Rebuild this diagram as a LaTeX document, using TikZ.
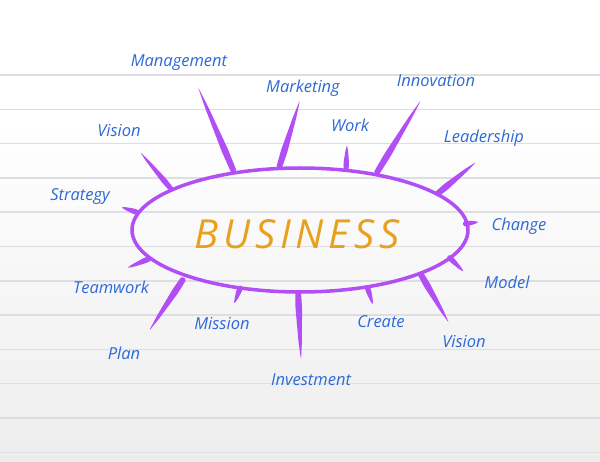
\documentclass[tikz,border=0pt]{standalone}
\usepackage{fontspec}
\setmainfont{Open Sans}
\usetikzlibrary{calc}
\definecolor{rayc}{RGB}{178,78,245}
\definecolor{labc}{RGB}{45,105,215}
\definecolor{bizc}{RGB}{232,160,30}
\definecolor{rulec}{RGB}{222,222,226}
\tikzset{
  word/.style={text=labc, font=\fontsize{16.5}{16.5}\selectfont\itshape, inner sep=0pt},
  title/.style={text=bizc, font=\fontsize{40}{40}\selectfont\itshape\addfontfeature{LetterSpace=12}, inner sep=0pt}
}
% brush stroke from base #1 to tip #2, half width #3
\newcommand\brush[3]{\fill[rayc, rounded corners=1.5pt]
  ($(#1)!0.85*#3!90:(#2)$) -- ($(#1)!0.25!(#2)!#3!90:(#2)$) -- ($(#1)!0.75!(#2)!0.5*#3!90:(#2)$) -- (#2)
  -- ($(#1)!0.75!(#2)!0.5*#3!-90:(#2)$) -- ($(#1)!0.25!(#2)!#3!-90:(#2)$) -- ($(#1)!0.85*#3!-90:(#2)$) -- cycle;}

\begin{document}
\begin{tikzpicture}[x=1pt, y=-1pt]
  \useasboundingbox (0,0) rectangle (600,462);
  \fill[white] (0,0) rectangle (600,462);
  \shade[top color=white, bottom color=black!7] (0,120) rectangle (600,462);
  \foreach \k in {0,...,11}
    \draw[rulec, line width=1.5pt] (0,75+34.3*\k) -- (600,75+34.3*\k);

  % rays
  \foreach \i/\bx/\by/\tx/\ty/\w in {1/234/172/198/87/3.3, 2/279/168/300/100/3.3, 3/346/170/347/145/2.8,
      4/376/174/421/100/3.3, 5/436/195/476/162/3.3, 6/172/190/140/152/2.8, 7/139/213/121/207/2.8,
      8/463/224/479/222/2.8, 9/151/258/127/268/2.8, 10/448/256/464/272/2.8, 11/184/278/149/331/3.3,
      12/241/286/234/304/2.8, 13/298/290/301/360/3.3, 14/367/286/373/305/2.8, 15/420/273/449/323/3.3} {
    \coordinate (b\i) at (\bx,\by);
    \coordinate (t\i) at (\tx,\ty);
    \brush{b\i}{t\i}{\w pt}
  }

  \draw[rayc, line width=3.5pt] (300,230) ellipse [x radius=168, y radius=62];
  \node[title] (biz) at (297,234) {BUSINESS};

  % labels
  \node[word] (mgmt) at (179,63) {Management};
  \node[word] (mkt) at (303,88) {Marketing};
  \node[word] (inno) at (436,81) {Innovation};
  \node[word] (work) at (350,125) {Work};
  \node[word] (vis1) at (119,131) {Vision};
  \node[word] (lead) at (484,138) {Leadership};
  \node[word] (strat) at (80,197) {Strategy};
  \node[word] (chg) at (519,226) {Change};
  \node[word] (team) at (111,287) {Teamwork};
  \node[word] (model) at (507,282) {Model};
  \node[word] (miss) at (222,324) {Mission};
  \node[word] (crt) at (381,322) {Create};
  \node[word] (vis2) at (464,342) {Vision};
  \node[word] (plan) at (124,353) {Plan};
  \node[word] (inv) at (311,380) {Investment};
\end{tikzpicture}
\end{document}
